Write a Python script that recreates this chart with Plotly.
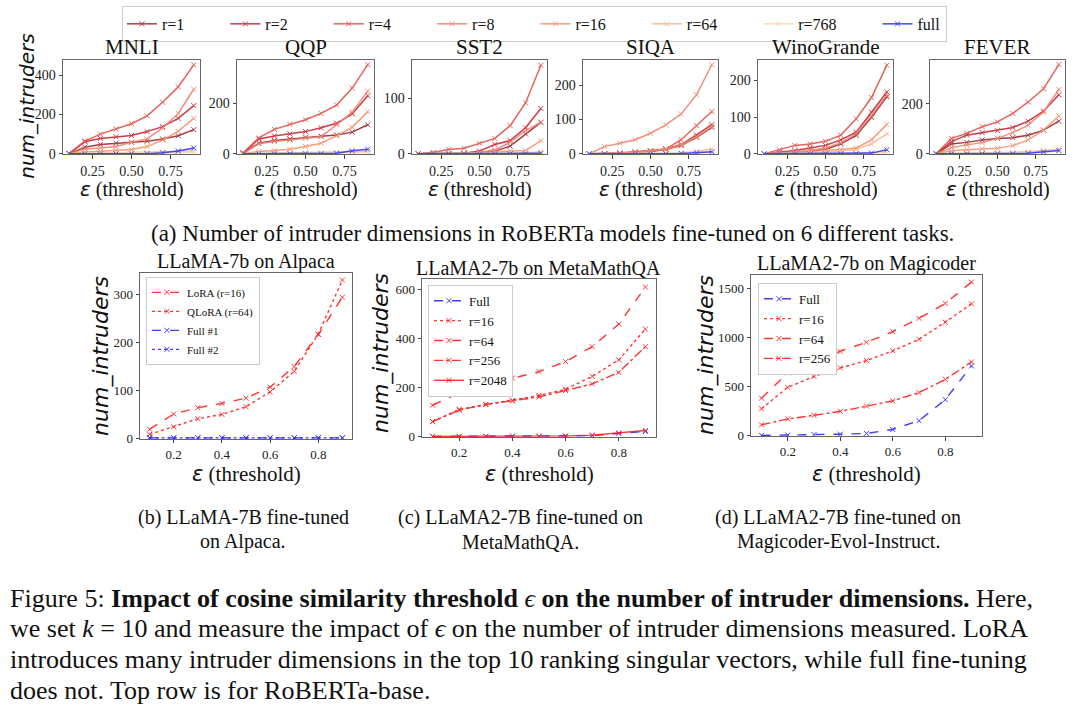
import plotly.graph_objects as go

# threshold values on the x axis
eps = [0.1, 0.2, 0.3, 0.4, 0.5, 0.6, 0.7, 0.8, 0.9]

# top row: RoBERTa, one list per rank (r=1, r=2, r=4, r=8, r=16, r=64, r=768, full)
ranks = ["r=1", "r=2", "r=4", "r=8", "r=16", "r=64", "r=768", "full"]
rank_colors = ["#9c2b33", "#c9283a", "#e2544a", "#f28370", "#f5946c", "#fbb990", "#fdd9aa", "#3333ff"]

tasks = ["MNLI", "QQP", "SST2", "SIQA", "WinoGrande", "FEVER"]

mnli = [[0, 34, 47, 54, 59, 64, 76, 92, 123],
        [0, 62, 78, 87, 93, 113, 138, 180, 245],
        [3, 65, 100, 127, 153, 193, 262, 340, 452],
        [0, 25, 30, 37, 59, 76, 132, 205, 328],
        [0, 10, 13, 17, 22, 37, 70, 114, 180],
        [0, 3, 4, 5, 6, 7, 9, 12, 15],
        [0, 1, 1, 2, 2, 3, 4, 6, 8],
        [0, 0, 0, 0, 0, 1, 5, 15, 30]]
qqp = [[3, 42, 53, 59, 66, 70, 75, 86, 115],
       [3, 59, 71, 79, 88, 103, 121, 158, 230],
       [4, 63, 97, 117, 135, 160, 193, 260, 353],
       [2, 40, 49, 55, 62, 68, 115, 165, 248],
       [1, 9, 13, 18, 29, 42, 72, 105, 167],
       [0, 2, 3, 3, 4, 5, 6, 8, 10],
       [0, 1, 1, 1, 2, 2, 3, 4, 5],
       [0, 0, 0, 0, 0, 0, 2, 12, 18]]
sst2 = [[0, 0, 0, 1, 2, 5, 14, 36, 57],
        [0, 0, 0, 1, 5, 17, 24, 47, 82],
        [0, 3, 8, 10, 19, 28, 51, 92, 160],
        [0, 0, 0, 1, 3, 7, 21, 42, 57],
        [0, 0, 1, 1, 2, 4, 5, 6, 24],
        [0, 0, 0, 0, 1, 1, 2, 2, 4],
        [0, 0, 0, 0, 0, 0, 1, 1, 2],
        [0, 0, 0, 0, 0, 0, 0, 0, 1]]
siqa = [[0, 0, 1, 4, 7, 13, 24, 48, 77],
        [0, 0, 2, 5, 8, 14, 27, 55, 85],
        [0, 1, 3, 6, 9, 14, 41, 82, 123],
        [0, 21, 31, 41, 60, 84, 116, 172, 259],
        [0, 0, 1, 3, 8, 14, 25, 50, 80],
        [0, 0, 0, 1, 1, 2, 3, 7, 14],
        [0, 0, 0, 0, 1, 1, 2, 3, 5],
        [0, 0, 0, 0, 0, 0, 1, 3, 6]]
winogrande = [[0, 1, 4, 7, 12, 27, 50, 99, 155],
              [0, 4, 9, 16, 23, 38, 59, 113, 168],
              [0, 11, 23, 27, 34, 51, 95, 153, 241],
              [0, 2, 5, 10, 15, 30, 55, 105, 160],
              [0, 1, 4, 7, 9, 12, 16, 38, 80],
              [0, 0, 2, 3, 5, 8, 12, 27, 54],
              [0, 0, 0, 1, 1, 1, 2, 2, 3],
              [0, 0, 0, 0, 0, 0, 0, 2, 11]]
fever = [[0, 40, 46, 56, 62, 65, 75, 95, 131],
         [0, 49, 75, 85, 93, 106, 131, 171, 237],
         [0, 62, 82, 109, 128, 162, 208, 261, 358],
         [0, 25, 36, 45, 62, 85, 115, 168, 258],
         [0, 12, 16, 20, 22, 33, 56, 95, 152],
         [0, 2, 3, 4, 5, 6, 8, 12, 20],
         [0, 1, 1, 2, 2, 3, 4, 6, 10],
         [0, 0, 0, 0, 0, 0, 2, 8, 13]]
task_values = [mnli, qqp, sst2, siqa, winogrande, fever]
task_ymax = [475, 370, 169, 272, 254, 375]
task_yticks = [[0, 200, 400], [0, 200], [0, 100], [0, 100, 200], [0, 100, 200], [0, 200]]

# bottom row: LLaMA models
alpaca_names = ["LoRA (r=16)", "QLoRA (r=64)", "Full #1", "Full #2"]
alpaca_lora = [19, 51, 64, 73, 84, 107, 150, 217, 295]
alpaca_qlora = [8, 24, 41, 50, 66, 97, 140, 218, 331]
alpaca_full1 = [1, 1, 1, 1, 1, 1, 1, 1, 1]
alpaca_full2 = [1, 1, 1, 1, 1, 1, 1, 1, 1]

math_names = ["Full", "r=16", "r=64", "r=256", "r=2048"]
math_full = [0, 0, 0, 0, 0, 1, 3, 12, 20]
math_r16 = [60, 110, 130, 147, 167, 192, 245, 312, 438]
math_r64 = [127, 177, 210, 238, 264, 305, 366, 458, 609]
math_r256 = [60, 107, 130, 145, 161, 187, 214, 261, 366]
math_r2048 = [0, 0, 0, 1, 1, 2, 5, 14, 24]

code_names = ["Full", "r=16", "r=64", "r=256"]
code_full = [0, 3, 8, 12, 20, 60, 150, 365, 710]
code_r16 = [272, 491, 602, 690, 764, 864, 982, 1157, 1345]
code_r64 = [380, 639, 767, 858, 952, 1060, 1197, 1349, 1567]
code_r256 = [108, 168, 205, 246, 299, 353, 437, 572, 750]

W, H = 1080, 706
SERIF = "Liberation Serif"
EPS_LABEL = '<span style="font-family:DejaVu Sans"><i>ε</i></span> (threshold)'
PAD = "\u00a0" * 9  # column gap in the top legend, like matplotlib's columnspacing


def fx(p):
    return p / W


def fy(p):
    return 1 - p / H


fig = go.Figure()
annotations = []
layout = {}


def add_axes(n, x0, x1, y0, y1, ymax, yticks, xticks, xfmt, tick_size):
    layout["xaxis%d" % n] = dict(domain=[fx(x0), fx(x1)], anchor="y%d" % n, range=[0.06, 0.94],
                                 tickvals=xticks, tickformat=xfmt, ticks="outside", ticklen=3.5,
                                 showline=True, mirror=True, linecolor="#666", linewidth=1,
                                 showgrid=False, zeroline=False,
                                 tickfont=dict(family=SERIF, size=tick_size, color="#222"))
    layout["yaxis%d" % n] = dict(domain=[fy(y1), fy(y0)], anchor="x%d" % n,
                                 range=[-0.004 * ymax, ymax], tickvals=yticks, ticks="outside",
                                 ticklen=3.5, showline=True, mirror=True, linecolor="#666",
                                 linewidth=1, showgrid=False, zeroline=False,
                                 tickfont=dict(family=SERIF, size=tick_size, color="#222"))


def label(text, x, y, size, family=SERIF, angle=0, xanchor="center", yanchor="middle"):
    annotations.append(dict(text=text, x=fx(x), y=fy(y), xref="paper", yref="paper",
                            showarrow=False, textangle=angle, xanchor=xanchor, yanchor=yanchor,
                            font=dict(family=family, size=size, color="#111")))


# ---- top row ----
top_x = [(63, 200), (237, 374), (412, 547), (583, 718), (758, 893), (930, 1065)]
for i, task in enumerate(tasks):
    n = i + 1
    x0, x1 = top_x[i]
    add_axes(n, x0, x1, 61, 156, task_ymax[i], task_yticks[i], [0.25, 0.5, 0.75], ".2f", 14)
    for j, r in enumerate(ranks):
        fig.add_trace(go.Scatter(
            x=eps, y=task_values[i][j], mode="lines+markers",
            name=r if r == "full" else r + PAD,
            xaxis="x%d" % n, yaxis="y%d" % n, legendgroup=r, showlegend=(i == 0),
            line=dict(color=rank_colors[j], width=1.5), opacity=0.9,
            marker=dict(symbol="x-thin", size=5, line=dict(width=1, color=rank_colors[j]))))
    label(task, (x0 + x1) / 2, 62, 21, yanchor="bottom")
    label(EPS_LABEL, (x0 + x1) / 2, 191, 20)

label("<i>num_intruders</i>", 27, 108, 20, family="DejaVu Sans", angle=-90)
label("(a) Number of intruder dimensions in RoBERTa models fine-tuned on 6 different tasks.",
      552, 236, 23)

# ---- bottom row ----
RED = "#ff2020"
BLUE = "#2a2aff"


def add_line(n, y, name, color, dash, legend):
    fig.add_trace(go.Scatter(
        x=eps, y=y, mode="lines+markers", name=name, xaxis="x%d" % n, yaxis="y%d" % n,
        legend=legend, line=dict(color=color, width=1.4, dash=dash), opacity=0.9,
        marker=dict(symbol="x-thin", size=5, line=dict(width=1, color=color))))


add_axes(7, 140, 352, 276, 444, 346, [0, 100, 200, 300], [0.2, 0.4, 0.6, 0.8], ".1f", 13)
add_line(7, alpaca_lora, alpaca_names[0], RED, "dash", "legend2")
add_line(7, alpaca_qlora, alpaca_names[1], RED, "dot", "legend2")
add_line(7, alpaca_full1, alpaca_names[2], BLUE, "dash", "legend2")
add_line(7, alpaca_full2, alpaca_names[3], BLUE, "dot", "legend2")

add_axes(8, 422, 656, 282, 442, 643, [0, 200, 400, 600], [0.2, 0.4, 0.6, 0.8], ".1f", 13)
add_line(8, math_full, math_names[0], BLUE, "dash", "legend3")
add_line(8, math_r16, math_names[1], RED, "dot", "legend3")
add_line(8, math_r64, math_names[2], RED, "dash", "legend3")
add_line(8, math_r256, math_names[3], RED, "dashdot", "legend3")
add_line(8, math_r2048, math_names[4], RED, "solid", "legend3")

add_axes(9, 751, 982, 278, 441, 1641, [0, 500, 1000, 1500], [0.2, 0.4, 0.6, 0.8], ".1f", 13)
add_line(9, code_full, code_names[0], BLUE, "dash", "legend4")
add_line(9, code_r16, code_names[1], RED, "dot", "legend4")
add_line(9, code_r64, code_names[2], RED, "dash", "legend4")
add_line(9, code_r256, code_names[3], RED, "dashdot", "legend4")

label("LLaMA-7b on Alpaca", 246, 278, 20, yanchor="bottom")
label("LLaMA2-7b on MetaMathQA", 538, 284, 20, yanchor="bottom")
label("LLaMA2-7b on Magicoder", 866, 280, 20, yanchor="bottom")
for cx, cy in [(101, 360), (381, 357), (706, 359)]:
    label("<i>num_intruders</i>", cx, cy, 22, family="DejaVu Sans", angle=-90)
for cx in [246, 539, 866]:
    label(EPS_LABEL, cx, 479, 21)

label("(b) LLaMA-7B fine-tuned", 243, 523, 20)
label("on Alpaca.", 243, 548, 20)
label("(c) LLaMA2-7B fine-tuned on", 520, 523, 20)
label("MetaMathQA.", 520, 548, 20)
label("(d) LLaMA2-7B fine-tuned on", 838, 523, 20)
label("Magicoder-Evol-Instruct.", 838, 548, 20)

# ---- figure caption ----
caption_lines = [
    "Figure 5: <b>Impact of cosine similarity threshold </b><i>ϵ</i><b> on the number of intruder dimensions.</b> Here,",
    "we set <i>k</i> = 10 and measure the impact of <i>ϵ</i> on the number of intruder dimensions measured. LoRA",
    "introduces many intruder dimensions in the top 10 ranking singular vectors, while full fine-tuning",
    "does not. Top row is for RoBERTa-base.",
]
for k, line in enumerate(caption_lines):
    label(line, 8, 605 + 31 * k, 26, xanchor="left")

box_legend = dict(bgcolor="white", bordercolor="#cccccc", borderwidth=1,
                  xanchor="left", yanchor="top", xref="paper", yref="paper")
fig.update_layout(
    width=W, height=H, margin=dict(l=0, r=0, t=0, b=0),
    paper_bgcolor="white", plot_bgcolor="white",
    annotations=annotations,
    legend=dict(box_legend, x=fx(122), y=fy(6), orientation="h",
                font=dict(family=SERIF, size=16, color="#111")),
    legend2=dict(box_legend, x=fx(146), y=fy(280), tracegroupgap=0,
                 font=dict(family=SERIF, size=11, color="#111")),
    legend3=dict(box_legend, x=fx(428), y=fy(288), tracegroupgap=0,
                 font=dict(family=SERIF, size=13, color="#111")),
    legend4=dict(box_legend, x=fx(758), y=fy(286), tracegroupgap=0,
                 font=dict(family=SERIF, size=13, color="#111")),
    **layout,
)

fig.write_html("out.html", config={"displayModeBar": False},
               post_script="document.body.style.margin = '0px';")
